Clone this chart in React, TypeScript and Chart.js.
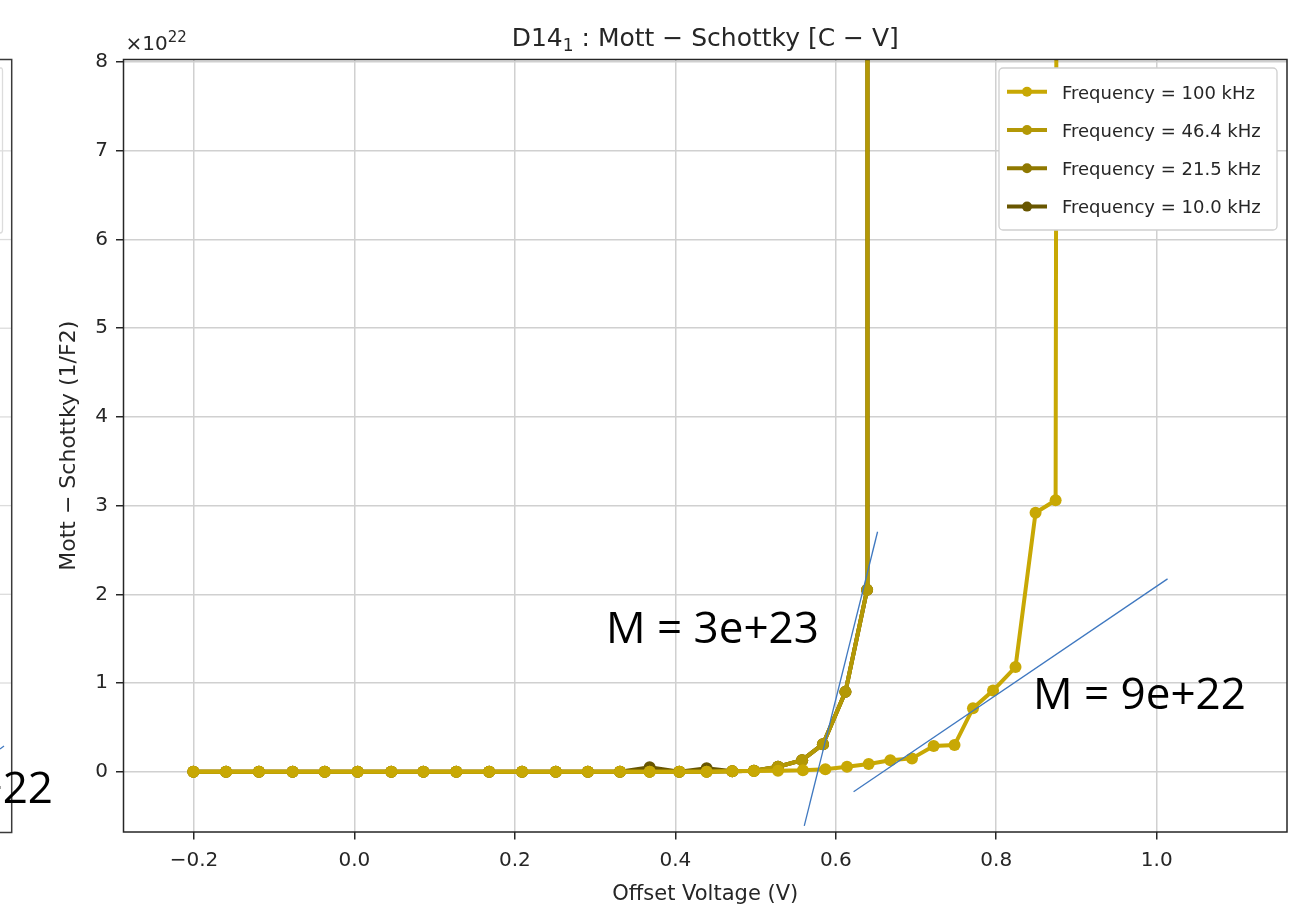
import React, { useEffect, useRef } from "react";
import { Chart, registerables } from "chart.js";

Chart.register(...registerables);

// ---- data (Mott–Schottky values in units of 1e22 1/F^2) ----
const voltage100 = [
  -0.2007, -0.16, -0.119, -0.077, -0.037, 0.004, 0.046, 0.086, 0.127, 0.168, 0.209, 0.251,
  0.291, 0.331, 0.368, 0.405, 0.439, 0.471, 0.498, 0.528, 0.559, 0.587, 0.614, 0.641, 0.668,
  0.695, 0.722, 0.748, 0.771, 0.796, 0.824, 0.849, 0.874, 0.9,
];
const ms100kHz = [
  0, 0, 0, 0, 0, 0, 0, 0, 0, 0, 0, 0, 0, 0, 0, 0, 0, 0.005, 0.008, 0.01, 0.015, 0.027, 0.056,
  0.087, 0.13, 0.15, 0.29, 0.3, 0.716, 0.915, 1.18, 2.92, 3.06, 150,
];
const voltageLow = [
  -0.2007, -0.16, -0.119, -0.077, -0.037, 0.004, 0.046, 0.086, 0.127, 0.168, 0.209, 0.251,
  0.291, 0.331, 0.368, 0.405, 0.439, 0.471, 0.498, 0.528, 0.558, 0.584, 0.612, 0.639, 0.6395,
];
const ms46kHz = [
  0, 0, 0, 0, 0, 0, 0, 0, 0, 0, 0, 0, 0, 0, 0, 0, 0, 0.005, 0.01, 0.056, 0.13, 0.31, 0.9, 2.05, 150,
];
const ms21kHz = [
  0, 0, 0, 0, 0, 0, 0, 0, 0, 0, 0, 0, 0, 0, 0, 0, 0, 0.005, 0.01, 0.056, 0.13, 0.31, 0.9, 2.05, 150,
];
const ms10kHz = [
  0, 0, 0, 0, 0, 0, 0, 0, 0, 0, 0, 0, 0, 0, 0.05, 0, 0.04, 0.005, 0.01, 0.056, 0.13, 0.31, 0.9, 2.05, 150,
];
const seriesLabels = [
  "Frequency = 100 kHz",
  "Frequency = 46.4 kHz",
  "Frequency = 21.5 kHz",
  "Frequency = 10.0 kHz",
];
const seriesColors = ["#c8a804", "#b39806", "#8f7800", "#685600"];

// linear fits drawn on the plot
const fit1Voltage = [0.5607, 0.6521];
const fit1MS = [-0.61, 2.705];
const fit2Voltage = [0.6222, 1.0135];
const fit2MS = [-0.226, 2.174];

const annotationTexts = ["M = 3e+23", "M = 9e+22"];
const annotationVoltage = [0.3136, 0.8458];
const annotationMS = [1.451, 0.707];

const xTickValues = [-0.2, 0.0, 0.2, 0.4, 0.6, 0.8, 1.0];
const yTickValues = [0, 1, 2, 3, 4, 5, 6, 7, 8];

const FONT = '"DejaVu Sans", sans-serif';
const ANN_FONT = '"Open Sans", sans-serif';

const pts = (xs: number[], ys: number[]) => xs.map((x, i) => ({ x, y: ys[i] }));

export default function App() {
  const ref = useRef<HTMLCanvasElement>(null);

  useEffect(() => {
    document.body.style.margin = "0";
    const canvas = ref.current!;

    const series = (i: number, xs: number[], ys: number[]) => ({
      label: seriesLabels[i],
      data: pts(xs, ys),
      borderColor: seriesColors[i],
      backgroundColor: seriesColors[i],
      pointBackgroundColor: seriesColors[i],
      borderWidth: 4,
      pointRadius: 6,
      pointHoverRadius: 6,
      pointBorderWidth: 0,
      tension: 0,
      order: i + 1,
      clip: 0,
    });
    const fit = (xs: number[], ys: number[]) => ({
      label: "fit",
      data: pts(xs, ys),
      borderColor: "#3f78c0",
      borderWidth: 1.3,
      pointRadius: 0,
      tension: 0,
      order: 0,
      clip: 0,
    });

    const decor = {
      id: "decor",
      afterDraw(chart: any) {
        const c = chart.ctx as CanvasRenderingContext2D;
        const a = chart.chartArea;
        const xs = chart.scales.x;
        const ys = chart.scales.y;
        c.save();
        // spines
        c.strokeStyle = "#262626";
        c.lineWidth = 1.5;
        c.strokeRect(a.left, a.top, a.right - a.left, a.bottom - a.top);

        // annotations
        c.fillStyle = "#000";
        c.font = `44px ${ANN_FONT}`;
        c.textAlign = "left";
        c.textBaseline = "alphabetic";
        annotationTexts.forEach((t, i) => {
          c.fillText(t, xs.getPixelForValue(annotationVoltage[i]), ys.getPixelForValue(annotationMS[i]));
        });

        // title
        const cx = (a.left + a.right) / 2;
        const p1 = "D14";
        const sub = "1";
        const p2 = " : Mott \u2212 Schottky [C \u2212 V]";
        c.fillStyle = "#262626";
        c.font = `25px ${FONT}`;
        const w1 = c.measureText(p1).width;
        const w3 = c.measureText(p2).width;
        c.font = `17px ${FONT}`;
        const w2 = c.measureText(sub).width;
        const tx = cx - (w1 + w2 + w3) / 2;
        const tb = 46;
        c.font = `25px ${FONT}`;
        c.fillText(p1, tx, tb);
        c.fillText(p2, tx + w1 + w2, tb);
        c.font = `17px ${FONT}`;
        c.fillText(sub, tx + w1, tb + 5);

        // offset text
        c.font = `20px ${FONT}`;
        c.fillText("\u00d710", a.left + 2, 50);
        const wo = c.measureText("\u00d710").width;
        c.font = `15px ${FONT}`;
        c.fillText("22", a.left + 2 + wo, 41.5);

        // axis labels
        c.font = `21px ${FONT}`;
        c.textAlign = "center";
        c.fillText("Offset Voltage (V)", cx, 900);
        c.save();
        c.translate(69, (a.top + a.bottom) / 2);
        c.rotate(-Math.PI / 2);
        c.textBaseline = "middle";
        c.font = `22px ${FONT}`;
        c.fillText("Mott \u2212 Schottky (1/F2)", 0, 0);
        c.restore();

        // legend
        const lx = 999, ly = 68, lw = 278, lh = 162;
        c.fillStyle = "#ffffff";
        c.strokeStyle = "#cfcfcf";
        c.lineWidth = 1.3;
        c.beginPath();
        (c as any).roundRect(lx, ly, lw, lh, 4);
        c.fill();
        c.stroke();
        c.textAlign = "left";
        c.textBaseline = "alphabetic";
        c.font = `18px ${FONT}`;
        seriesLabels.forEach((lab, i) => {
          const ry = 91.7 + i * 38.3;
          c.strokeStyle = seriesColors[i];
          c.lineWidth = 4;
          c.beginPath();
          c.moveTo(1007, ry);
          c.lineTo(1047, ry);
          c.stroke();
          c.fillStyle = seriesColors[i];
          c.beginPath();
          c.arc(1027, ry, 5, 0, Math.PI * 2);
          c.fill();
          c.fillStyle = "#262626";
          c.fillText(lab, 1062, ry + 6.8);
        });

        // fragment of neighbouring panel at the left edge
        c.strokeStyle = "#dcdcdc";
        c.lineWidth = 1.3;
        [1, 2, 3, 4, 5, 6, 7].forEach((v) => {
          const y = ys.getPixelForValue(v);
          c.beginPath();
          c.moveTo(0, y);
          c.lineTo(11, y);
          c.stroke();
        });
        c.beginPath();
        c.moveTo(0, 68);
        c.lineTo(1, 68);
        c.quadraticCurveTo(2.5, 68, 2.5, 71);
        c.lineTo(2.5, 230);
        c.quadraticCurveTo(2.5, 233, 0, 233);
        c.stroke();
        c.strokeStyle = "#3f78c0";
        c.lineWidth = 1.2;
        c.beginPath();
        c.moveTo(0, 749);
        c.lineTo(4, 746);
        c.stroke();
        c.strokeStyle = "#3a3a3a";
        c.lineWidth = 1.5;
        c.beginPath();
        c.moveTo(0, 59.5);
        c.lineTo(11.7, 59.5);
        c.lineTo(11.7, 832.5);
        c.lineTo(0, 832.5);
        c.stroke();
        c.fillStyle = "#000";
        c.font = `44px ${ANN_FONT}`;
        c.textAlign = "right";
        c.fillText("e+22", 53, 803);
        c.restore();
      },
    };

    const chart = new Chart(canvas, {
      type: "line",
      data: {
        datasets: [
          fit(fit1Voltage, fit1MS),
          fit(fit2Voltage, fit2MS),
          series(0, voltage100, ms100kHz),
          series(1, voltageLow, ms46kHz),
          series(2, voltageLow, ms21kHz),
          series(3, voltageLow, ms10kHz),
        ] as any,
      },
      options: {
        responsive: false,
        animation: false,
        events: [],
        layout: { padding: { left: 0, top: 59.5, right: 11, bottom: 0 } },
        plugins: {
          legend: { display: false },
          tooltip: { enabled: false },
          title: { display: false },
        },
        scales: {
          x: {
            type: "linear",
            min: -0.2878,
            max: 1.1624,
            afterBuildTicks: (s: any) => {
              s.ticks = xTickValues.map((v) => ({ value: v }));
            },
            afterFit: (s: any) => {
              s.height = 78;
            },
            border: { display: false },
            grid: {
              color: "#d0d0d0",
              lineWidth: 1.5,
              tickColor: "#262626",
              tickLength: 7.5,
              tickWidth: 1.5,
            },
            ticks: {
              padding: 9,
              color: "#262626",
              font: { family: "DejaVu Sans", size: 20 },
              maxRotation: 0,
              callback: (v: any) => {
                const n = Number(v);
                return n < 0 ? "\u2212" + Math.abs(n).toFixed(1) : n.toFixed(1);
              },
            },
          },
          y: {
            type: "linear",
            min: -0.68,
            max: 8.03,
            afterBuildTicks: (s: any) => {
              s.ticks = yTickValues.map((v) => ({ value: v }));
            },
            afterFit: (s: any) => {
              s.width = 123.5;
            },
            border: { display: false },
            grid: {
              color: "#d0d0d0",
              lineWidth: 1.5,
              tickColor: "#262626",
              tickLength: 7.5,
              tickWidth: 1.5,
            },
            ticks: {
              padding: 8,
              color: "#262626",
              font: { family: "DejaVu Sans", size: 20 },
              callback: (v: any) => String(v),
            },
          },
        },
      } as any,
      plugins: [decor],
    });

    return () => chart.destroy();
  }, []);

  return (
    <div style={{ position: "absolute", left: 0, top: 0, width: 1298, height: 910, background: "#fff" }}>
      <canvas ref={ref} width={1298} height={910} style={{ display: "block" }} />
    </div>
  );
}
